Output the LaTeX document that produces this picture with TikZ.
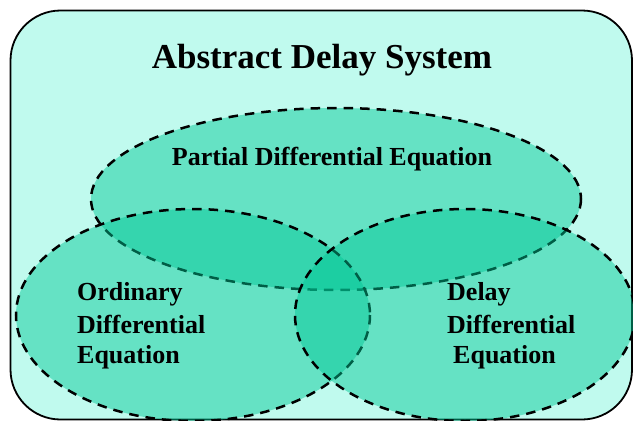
\documentclass[tikz,border=0pt]{standalone}
\usepackage{fontspec}
\setmainfont{Liberation Serif}
\definecolor{bgaqua}{RGB}{192,250,238}
\definecolor{ellgreen}{RGB}{0,200,150}
\tikzset{
  setbox/.style={dash pattern=on 9.5pt off 7pt, line width=2.5pt, draw=black, fill=ellgreen, fill opacity=0.47, draw opacity=1},
  lbl/.style={font=\bfseries\fontsize{26}{30}\selectfont, inner sep=0pt, anchor=base west},
}
\begin{document}
\begin{tikzpicture}[x=1pt,y=-1pt]
\useasboundingbox (0,0) rectangle (633,421);
% outer frame
\draw[line width=1.8pt, fill=bgaqua, rounded corners=50pt] (10.5,10.5) rectangle (632,419.5);
\node[font=\bfseries\fontsize{35}{40}\selectfont, inner sep=0pt, anchor=base] (title) at (322,68) {Abstract Delay System};
% sets
\draw[setbox] (336,199) ellipse [x radius=245, y radius=91];
\draw[setbox] (193,315) ellipse [x radius=177, y radius=106];
\draw[setbox] (465,315) ellipse [x radius=170, y radius=106];
% labels
\node[lbl, anchor=base] (pde) at (332,165) {Partial Differential Equation};
\node[lbl] (ode1) at (77,300) {Ordinary};
\node[lbl] (ode2) at (77,333) {Differential};
\node[lbl] (ode3) at (77,363) {Equation};
\node[lbl] (dde1) at (447,300) {Delay};
\node[lbl] (dde2) at (447,333) {Differential};
\node[lbl] (dde3) at (453,363) {Equation};
\end{tikzpicture}
\end{document}
